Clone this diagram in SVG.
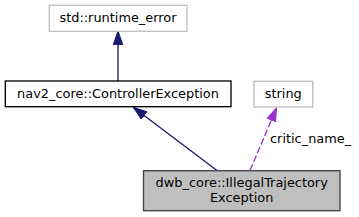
<svg xmlns="http://www.w3.org/2000/svg" width="359" height="217" viewBox="0 0 359 217">
<style>
text{font-family:"DejaVu Sans",sans-serif;font-size:12.9px;fill:#000;text-anchor:middle}
rect{stroke-width:1.33}
.ext{fill:#fff;stroke:#bfbfbf}
.n{fill:#fff;stroke:#000}
.cur{fill:#bfbfbf;stroke:#404040}
.inh{stroke:midnightblue;fill:none;stroke-width:1.33}
.use{stroke:#9a32cd;fill:none;stroke-width:1.33;stroke-dasharray:6.7,2.7}
</style>
<defs>
<marker id="ab" markerWidth="14" markerHeight="10" refX="13.5" refY="4.7" orient="auto" markerUnits="userSpaceOnUse"><path d="M0,0 L13.5,4.7 L0,9.4 Z" fill="midnightblue" stroke="midnightblue" stroke-width="1"/></marker>
<marker id="ap" markerWidth="14" markerHeight="10" refX="13.5" refY="4.7" orient="auto" markerUnits="userSpaceOnUse"><path d="M0,0 L13.5,4.7 L0,9.4 Z" fill="#9a32cd" stroke="#9a32cd" stroke-width="1"/></marker>
</defs>
<g id="edges">
<path class="inh" d="M118,81 L118,31" marker-end="url(#ab)"/>
<path class="inh" d="M217,170.5 L133.5,107.5" marker-end="url(#ab)"/>
<path class="use" d="M250,170.5 L276.5,108" marker-end="url(#ap)"/>
<text x="270" y="143" style="text-anchor:start">critic_name_</text>
</g>
<g id="runtime_error">
<rect class="ext" x="49.3" y="5.3" width="137.7" height="26"/>
<text x="118" y="22">std::runtime_error</text>
</g>
<g id="ControllerException">
<rect class="n" x="5.3" y="81" width="225.7" height="25.7"/>
<text x="118" y="98">nav2_core::ControllerException</text>
</g>
<g id="string">
<rect class="ext" x="254" y="81.3" width="58.7" height="25.7"/>
<text x="283.3" y="98">string</text>
</g>
<g id="IllegalTrajectoryException">
<rect class="cur" x="143.5" y="170.7" width="196.5" height="40"/>
<text x="241.7" y="187">dwb_core::IllegalTrajectory</text>
<text x="241.7" y="202">Exception</text>
</g>
</svg>
